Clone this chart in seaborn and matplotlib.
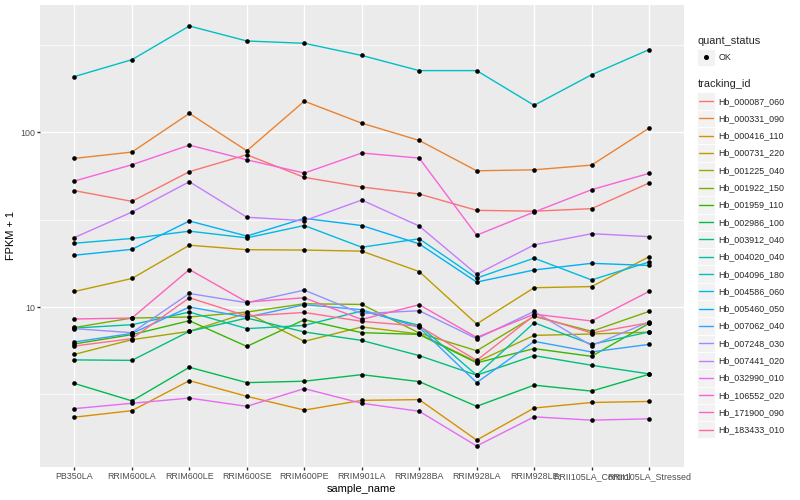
import numpy as np
import pandas as pd
import matplotlib
matplotlib.use("Agg")
import matplotlib.pyplot as plt
import seaborn as sns
from matplotlib.legend_handler import HandlerBase
from matplotlib.patches import Rectangle
from matplotlib.lines import Line2D
from matplotlib.ticker import FixedLocator, NullFormatter

# ---------------- data ----------------
samples = ["PB350LA", "RRIM600LA", "RRIM600LE", "RRIM600SE", "RRIM600PE",
           "RRIM901LA", "RRIM928BA", "RRIM928LA", "RRIM928LE",
           "RRII105LA_Control", "RRII105LA_Stressed"]

tracking_ids = ["Hb_000087_060", "Hb_000331_090", "Hb_000416_110", "Hb_000731_220",
                "Hb_001225_040", "Hb_001922_150", "Hb_001959_110", "Hb_002986_100",
                "Hb_003912_040", "Hb_004020_040", "Hb_004096_180", "Hb_004586_060",
                "Hb_005460_050", "Hb_007062_040", "Hb_007248_030", "Hb_007441_020",
                "Hb_032990_010", "Hb_106552_020", "Hb_171900_090", "Hb_183433_010"]

Hb_000087_060 = [46.4, 40.3, 59.6, 74.5, 55.3, 48.7, 44.4, 35.8, 35.4, 36.6, 51.3]
Hb_000331_090 = [71.0, 77.2, 128.5, 78.5, 151.0, 113.0, 90.0, 60.3, 61.1, 65.0, 105.8]
Hb_000416_110 = [2.34, 2.55, 3.79, 3.08, 2.57, 2.92, 2.95, 1.73, 2.64, 2.84, 2.88]
Hb_000731_220 = [12.28, 14.57, 22.6, 21.3, 21.2, 20.9, 15.97, 8.0, 12.9, 13.1, 19.4]
Hb_001225_040 = [5.36, 6.50, 7.26, 9.24, 6.36, 7.69, 7.01, 4.85, 6.88, 7.01, 7.18]
Hb_001922_150 = [7.64, 8.65, 8.77, 9.36, 10.44, 10.35, 7.10, 5.62, 8.84, 7.26, 9.44]
Hb_001959_110 = [6.15, 6.95, 8.35, 5.95, 8.46, 7.13, 6.97, 4.79, 5.78, 5.22, 8.06]
Hb_002986_100 = [3.65, 2.90, 4.52, 3.69, 3.76, 4.10, 3.74, 2.70, 3.57, 3.30, 4.12]
Hb_003912_040 = [4.98, 4.95, 7.26, 8.65, 7.20, 6.44, 5.27, 4.07, 5.27, 4.64, 4.14]
Hb_004020_040 = [7.58, 7.92, 9.36, 7.52, 7.85, 9.49, 7.85, 4.07, 8.13, 6.11, 7.20]
Hb_004096_180 = [209.0, 261.0, 407.0, 334.0, 324.0, 276.0, 226.0, 226.0, 143.0, 214.0, 298.0]
Hb_004586_060 = [23.2, 24.7, 27.2, 24.9, 29.3, 22.0, 24.6, 14.65, 19.05, 14.3, 18.1]
Hb_005460_050 = [19.8, 21.4, 31.1, 25.5, 32.2, 29.3, 23.0, 13.9, 16.3, 17.8, 17.3]
Hb_007062_040 = [6.31, 7.06, 10.0, 8.74, 10.31, 9.65, 7.64, 3.69, 6.36, 5.53, 6.11]
Hb_007248_030 = [7.52, 7.13, 11.96, 10.58, 12.5, 9.16, 9.53, 6.59, 9.44, 6.01, 8.21]
Hb_007441_020 = [25.0, 35.0, 52.2, 32.7, 31.2, 41.0, 29.1, 15.4, 22.7, 26.3, 25.3]
Hb_032990_010 = [2.62, 2.81, 3.01, 2.70, 3.41, 2.81, 2.53, 1.60, 2.35, 2.25, 2.29]
Hb_106552_020 = [52.7, 65.3, 84.6, 69.7, 58.5, 76.2, 71.3, 25.8, 35.0, 47.0, 58.3]
Hb_171900_090 = [8.54, 8.65, 16.4, 10.68, 11.30, 8.49, 10.31, 6.70, 9.10, 8.32, 12.28]
Hb_183433_010 = [5.98, 6.59, 11.30, 8.88, 9.31, 8.28, 7.77, 4.95, 8.95, 7.10, 8.13]

series = [Hb_000087_060, Hb_000331_090, Hb_000416_110, Hb_000731_220, Hb_001225_040,
          Hb_001922_150, Hb_001959_110, Hb_002986_100, Hb_003912_040, Hb_004020_040,
          Hb_004096_180, Hb_004586_060, Hb_005460_050, Hb_007062_040, Hb_007248_030,
          Hb_007441_020, Hb_032990_010, Hb_106552_020, Hb_171900_090, Hb_183433_010]

quant_status = ["OK"]

colors = ["#F8766D", "#EA8331", "#D89000", "#C09B00", "#A3A500", "#7CAE00", "#39B600",
          "#00BB4E", "#00BF7D", "#00C1A3", "#00BFC4", "#00BAE0", "#00B0F6", "#35A2FF",
          "#9590FF", "#C77CFF", "#E76BF3", "#FA62DB", "#FF62BC", "#FF6C91"]

rows = []
for tid, vals in zip(tracking_ids, series):
    for s, v in zip(samples, vals):
        rows.append({"tracking_id": tid, "sample_name": s, "fpkm": v,
                     "quant_status": quant_status[0]})
df = pd.DataFrame(rows)

# ---------------- style ----------------
sns.set_theme(style="darkgrid")
plt.rcParams["font.family"] = ["Liberation Sans", "DejaVu Sans"]

W, H = 800, 500
fig = plt.figure(figsize=(8, 5), dpi=100)
fig.patch.set_facecolor("white")
pl, pr, pt, pb = 40.0, 683.5, 5.0, 467.0
ax = fig.add_axes([pl / W, 1 - pb / H, (pr - pl) / W, (pb - pt) / H])
ax.set_facecolor("#EBEBEB")
for sp in ax.spines.values():
    sp.set_visible(False)

sns.lineplot(data=df, x="sample_name", y="fpkm", hue="tracking_id",
             hue_order=tracking_ids, palette=colors, linewidth=1.0,
             errorbar=None, legend=False, ax=ax, zorder=2)
sns.scatterplot(data=df, x="sample_name", y="fpkm", color="black", s=11,
                linewidth=0, legend=False, ax=ax, zorder=3)

ax.set_yscale("log")
lo = np.log10(df["fpkm"].min())
hi = np.log10(df["fpkm"].max())
pad = 0.05 * (hi - lo)
ax.set_ylim(10 ** (lo - pad), 10 ** (hi + pad))
ax.set_xlim(-0.6, len(samples) - 0.4)

ax.yaxis.set_major_locator(FixedLocator([10, 100]))
ax.set_yticklabels(["10", "100"])
ax.yaxis.set_minor_locator(FixedLocator([10 ** 0.5, 10 ** 1.5, 10 ** 2.5]))
ax.yaxis.set_minor_formatter(NullFormatter())

ax.grid(which="major", color="white", linewidth=1.0)
ax.grid(which="minor", axis="y", color="white", linewidth=0.5)
ax.set_axisbelow(True)

ax.tick_params(axis="both", which="major", length=2.0, width=1.0, color="#333333",
               labelsize=6.4, labelcolor="#4D4D4D", pad=1.6, bottom=True, left=True)
ax.tick_params(axis="both", which="minor", length=0)

ax.set_xlabel("sample_name", fontsize=7.9, color="black", labelpad=2.0)
ax.set_ylabel("FPKM + 1", fontsize=7.9, color="black", labelpad=3.0)

# ---------------- legends ----------------
class KeyHandler(HandlerBase):
    def create_artists(self, legend, orig_handle, xdescent, ydescent, width, height,
                       fontsize, trans):
        x0, y0 = -xdescent, -ydescent
        bg = Rectangle((x0, y0), width, height, facecolor="#F2F2F2",
                       edgecolor="white", linewidth=0.6, transform=trans)
        cy = y0 + height / 2
        mk = orig_handle.get_marker()
        if mk not in (None, "None", "", " "):
            a = Line2D([x0 + width / 2], [cy], marker="o", linestyle="none",
                       color=orig_handle.get_color(),
                       markersize=orig_handle.get_markersize(), transform=trans)
        else:
            a = Line2D([x0 + width * 0.12, x0 + width * 0.88], [cy, cy],
                       color=orig_handle.get_color(),
                       linewidth=orig_handle.get_linewidth(), transform=trans)
        return [bg, a]

leg_fs = 6.4
key_px = 17.3
key_pt = key_px * 72 / 100
hh = (key_pt / leg_fs - 0.245) / 0.65
common = dict(loc="upper left", frameon=False, fontsize=leg_fs, borderpad=0,
              borderaxespad=0, labelspacing=0, handlelength=key_pt / leg_fs,
              handleheight=hh, handletextpad=0.45,
              handler_map={Line2D: KeyHandler()})

lx = 697.3
fig.text(lx / W, 1 - 41 / H, "quant_status", fontsize=7.9, va="center", ha="left")
h_ok = [Line2D([], [], marker="o", linestyle="none", color="black", markersize=2.6)]
leg1 = fig.legend(h_ok, quant_status, bbox_to_anchor=(lx / W, 1 - 48.5 / H), **common)

fig.text(lx / W, 1 - 84 / H, "tracking_id", fontsize=7.9, va="center", ha="left")
h_ids = [Line2D([], [], color=c, linewidth=1.0) for c in colors]
leg2 = fig.legend(h_ids, tracking_ids, bbox_to_anchor=(lx / W, 1 - 92.4 / H), **common)

fig.savefig("out.png", dpi=100, facecolor="white")
